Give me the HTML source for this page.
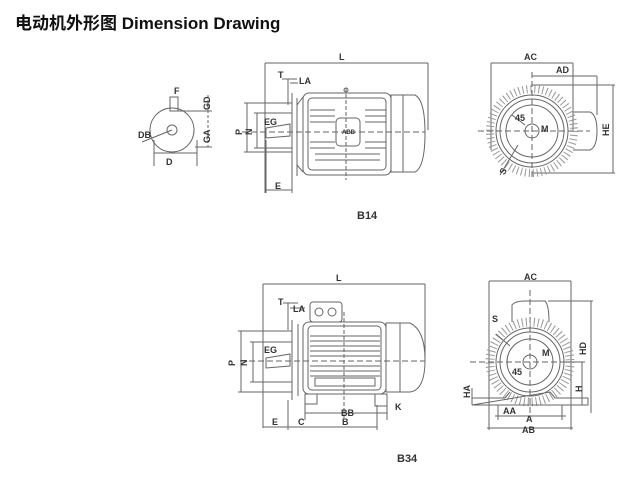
<!DOCTYPE html>
<html><head><meta charset="utf-8"><style>
html,body{margin:0;padding:0;background:#fff;width:624px;height:493px;overflow:hidden}
svg{display:block}
text{font-family:"Liberation Sans",Arial,sans-serif;font-weight:bold;fill:#333}
</style></head><body>
<svg width="624" height="493" viewBox="0 0 624 493" xmlns="http://www.w3.org/2000/svg">
<text x="15" y="29" style="font-family:'Liberation Sans','Noto Sans CJK SC',sans-serif;font-size:17px;fill:#111">电动机外形图 Dimension Drawing</text>

<g stroke="#666" stroke-width="1" fill="none">
<!-- ===== B14 shaft end ===== -->
<circle cx="172" cy="130" r="22"/>
<circle cx="172" cy="130" r="5"/>
<rect x="170" y="97" width="8" height="14"/>
<line x1="154" y1="153" x2="197" y2="153"/>
<line x1="154" y1="140" x2="154" y2="166"/><line x1="197" y1="140" x2="197" y2="166"/>
<line x1="178" y1="111" x2="212" y2="111"/>
<line x1="195" y1="147" x2="212" y2="147"/>
<line x1="208" y1="95" x2="208" y2="147" stroke-dasharray="3 2"/>
<line x1="142" y1="142" x2="172" y2="130"/>

<!-- ===== B14 side ===== -->
<line x1="265" y1="63" x2="428" y2="63"/>
<line x1="265" y1="63" x2="265" y2="193"/><line x1="428" y1="63" x2="428" y2="130"/>
<line x1="242" y1="132" x2="425" y2="132" stroke-dasharray="6 3"/>
<rect x="303" y="93" width="88" height="82" rx="6"/>
<rect x="308" y="98" width="78" height="72" rx="4"/>
<line x1="310" y1="110" x2="335" y2="110"/><line x1="365" y1="110" x2="386" y2="110"/>
<line x1="310" y1="116" x2="335" y2="116"/><line x1="365" y1="116" x2="386" y2="116"/>
<line x1="310" y1="122" x2="335" y2="122"/><line x1="365" y1="122" x2="386" y2="122"/>
<line x1="310" y1="142" x2="335" y2="142"/><line x1="365" y1="142" x2="386" y2="142"/>
<line x1="310" y1="148" x2="335" y2="148"/><line x1="365" y1="148" x2="386" y2="148"/>
<line x1="315" y1="154" x2="380" y2="154"/><line x1="315" y1="160" x2="380" y2="160"/>
<rect x="336" y="118" width="24" height="28" rx="4"/>
<path d="M391 95 L415 95 Q425 100 425 133 Q425 167 415 172 L391 172 Z"/>
<line x1="403" y1="95" x2="403" y2="172"/>
<line x1="292" y1="93" x2="292" y2="180"/><line x1="297" y1="98" x2="297" y2="176"/>
<path d="M297 105 L303 97 M297 165 L303 172"/>
<line x1="346" y1="88" x2="346" y2="180" stroke-dasharray="4 2"/>
<circle cx="346" cy="90" r="2"/>
<line x1="244" y1="103" x2="292" y2="103"/><line x1="244" y1="152" x2="292" y2="152"/>
<line x1="247" y1="103" x2="247" y2="152"/>
<line x1="254" y1="113" x2="292" y2="113"/><line x1="254" y1="148" x2="292" y2="148"/>
<line x1="257" y1="113" x2="257" y2="148"/>
<path d="M266 128 L290 124 L290 136 L266 138 Z"/>
<line x1="266" y1="140" x2="266" y2="193"/><line x1="292" y1="140" x2="292" y2="193"/>
<line x1="266" y1="190" x2="292" y2="190"/>
<line x1="282" y1="79" x2="297" y2="79"/><line x1="290" y1="83" x2="298" y2="83"/>
<line x1="288" y1="79" x2="288" y2="105"/>

<!-- ===== B14 end view ===== -->
<line x1="491" y1="63" x2="573" y2="63"/>
<line x1="491" y1="63" x2="491" y2="150"/><line x1="573" y1="63" x2="573" y2="130"/>
<line x1="532" y1="76" x2="597" y2="76"/>
<line x1="597" y1="76" x2="597" y2="115"/>
<line x1="532" y1="85" x2="615" y2="85"/><line x1="532" y1="173" x2="615" y2="173"/>
<line x1="613" y1="85" x2="613" y2="173"/>
<line x1="478" y1="131" x2="590" y2="131" stroke-dasharray="6 3"/>
<line x1="532" y1="72" x2="532" y2="180" stroke-dasharray="6 3"/>
<circle cx="532" cy="131" r="42" stroke-dasharray="1 3" stroke-width="8" stroke="#999"/>
<circle cx="532" cy="131" r="36"/>
<circle cx="532" cy="131" r="32"/>
<circle cx="532" cy="131" r="26"/>
<circle cx="532" cy="131" r="7"/>
<path d="M573 112 L590 112 Q597 115 597 131 Q597 147 590 150 L573 150"/>
<line x1="518" y1="145" x2="500" y2="175"/>
<line x1="512" y1="115" x2="525" y2="125"/>

<!-- ===== B34 side ===== -->
<line x1="263" y1="284" x2="425" y2="284"/>
<line x1="263" y1="284" x2="263" y2="428"/><line x1="425" y1="284" x2="425" y2="360"/>
<line x1="240" y1="361" x2="425" y2="361" stroke-dasharray="6 3"/>
<rect x="303" y="322" width="83" height="72" rx="6"/>
<rect x="308" y="326" width="73" height="64" rx="4"/>
<line x1="310" y1="336" x2="380" y2="336"/><line x1="310" y1="341" x2="380" y2="341"/>
<line x1="310" y1="346" x2="380" y2="346"/><line x1="310" y1="351" x2="380" y2="351"/>
<line x1="310" y1="356" x2="380" y2="356"/><line x1="310" y1="366" x2="380" y2="366"/>
<line x1="310" y1="371" x2="380" y2="371"/><line x1="310" y1="376" x2="380" y2="376"/>
<rect x="315" y="378" width="60" height="8"/>
<path d="M386 323 L410 323 Q425 330 425 360 Q425 390 410 392 L386 392 Z"/>
<line x1="400" y1="323" x2="400" y2="392"/>
<rect x="310" y="302" width="32" height="20" rx="3"/>
<circle cx="319" cy="312" r="4"/><circle cx="332" cy="312" r="4"/>
<line x1="292" y1="320" x2="292" y2="400"/><line x1="298" y1="324" x2="298" y2="396"/>
<line x1="344" y1="312" x2="344" y2="420" stroke-dasharray="4 2"/>
<line x1="238" y1="331" x2="292" y2="331"/><line x1="238" y1="392" x2="292" y2="392"/>
<line x1="241" y1="331" x2="241" y2="392"/>
<line x1="250" y1="342" x2="292" y2="342"/><line x1="250" y1="382" x2="292" y2="382"/>
<line x1="253" y1="342" x2="253" y2="382"/>
<path d="M266 358 L290 354 L290 366 L266 368 Z"/>
<rect x="305" y="394" width="12" height="10"/><rect x="375" y="394" width="12" height="12"/>
<line x1="305" y1="404" x2="305" y2="420"/><line x1="387" y1="404" x2="387" y2="420"/>
<line x1="305" y1="413" x2="387" y2="413"/>
<line x1="288" y1="400" x2="288" y2="430"/><line x1="377" y1="405" x2="377" y2="430"/>
<line x1="263" y1="427" x2="377" y2="427"/>
<line x1="283" y1="303" x2="298" y2="303"/><line x1="290" y1="308" x2="305" y2="308"/>
<line x1="288" y1="303" x2="288" y2="330"/>

<!-- ===== B34 end view ===== -->
<line x1="489" y1="281" x2="571" y2="281"/>
<line x1="489" y1="281" x2="489" y2="430"/><line x1="571" y1="281" x2="571" y2="430"/>
<line x1="548" y1="301" x2="593" y2="301"/><line x1="591" y1="301" x2="591" y2="413"/>
<line x1="560" y1="362" x2="585" y2="362"/><line x1="582" y1="362" x2="582" y2="405"/>
<line x1="470" y1="362" x2="575" y2="362" stroke-dasharray="6 3"/>
<line x1="530" y1="290" x2="530" y2="415" stroke-dasharray="6 3"/>
<circle cx="530" cy="362" r="40" stroke-dasharray="1 3" stroke-width="9" stroke="#999"/>
<circle cx="530" cy="362" r="34"/>
<circle cx="530" cy="362" r="30"/>
<circle cx="530" cy="362" r="23"/>
<circle cx="530" cy="362" r="7"/>
<path d="M512 322 L512 305 Q515 301 525 301 L545 301 Q549 305 549 322"/>
<path d="M472 398 L505 398 L510 392 M550 392 L555 398 L588 398 L588 405 L472 405 Z"/>
<line x1="487" y1="428" x2="573" y2="428"/>
<line x1="495" y1="416" x2="566" y2="416"/>
<line x1="498" y1="405" x2="498" y2="420"/><line x1="562" y1="405" x2="562" y2="420"/>
<line x1="472" y1="388" x2="472" y2="405"/>
<line x1="496" y1="334" x2="510" y2="346"/>
</g>

<g font-size="9">
<text x="174" y="94">F</text>
<text x="198" y="108" transform="rotate(-90 205 103)">GD</text>
<text x="199" y="142" transform="rotate(-90 205 137)">GA</text>
<text x="138" y="138">DB</text>
<text x="166" y="165">D</text>
<text x="339" y="60">L</text>
<text x="278" y="78">T</text>
<text x="299" y="84">LA</text>
<text x="264" y="125">EG</text>
<text x="233" y="134" transform="rotate(-90 238 130)">P</text>
<text x="243" y="134" transform="rotate(-90 248 130)">N</text>
<text x="275" y="189">E</text>
<text x="342" y="134" font-size="6">ABB</text>
<text x="524" y="60">AC</text>
<text x="556" y="73">AD</text>
<text x="515" y="121">45</text>
<text x="541" y="132">M</text>
<text x="598" y="133" transform="rotate(-90 605 129)">HE</text>
<text x="500" y="172" transform="rotate(-60 505 170)">S</text>
<text x="357" y="219" font-size="11">B14</text>

<text x="336" y="281">L</text>
<text x="278" y="305">T</text>
<text x="293" y="312">LA</text>
<text x="264" y="353">EG</text>
<text x="226" y="365" transform="rotate(-90 231 361)">P</text>
<text x="238" y="365" transform="rotate(-90 243 361)">N</text>
<text x="341" y="416">BB</text>
<text x="395" y="410">K</text>
<text x="272" y="425">E</text>
<text x="298" y="425">C</text>
<text x="342" y="425">B</text>
<text x="524" y="280">AC</text>
<text x="492" y="322">S</text>
<text x="542" y="356">M</text>
<text x="512" y="375">45</text>
<text x="575" y="352" transform="rotate(-90 582 348)">HD</text>
<text x="572" y="390" transform="rotate(-90 578 386)">H</text>
<text x="460" y="396" transform="rotate(-90 466 392)">HA</text>
<text x="503" y="414">AA</text>
<text x="526" y="422">A</text>
<text x="522" y="433">AB</text>
<text x="397" y="462" font-size="11">B34</text>
</g>
</svg>
</body></html>
